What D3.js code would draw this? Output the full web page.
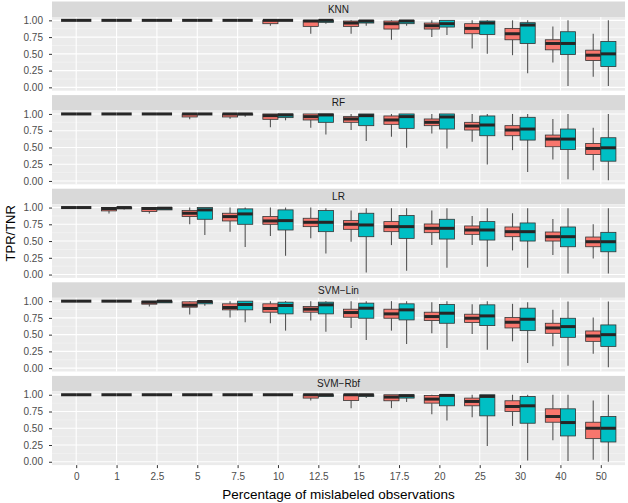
<!DOCTYPE html>
<html><head><meta charset="utf-8">
<script src="https://cdn.jsdelivr.net/npm/d3@7"></script>
<style>body{margin:0;background:#fff}text{font-family:"Liberation Sans",Arial,sans-serif}</style>
</head><body><svg id="c" width="628" height="503"></svg>
<script>
// ---- data ----
const categories = ["0","1","2.5","5","7.5","10","12.5","15","17.5","20","25","30","40","50"];
const facets = ["KNN","RF","LR","SVM\u2212Lin","SVM\u2212Rbf"];
const seriesNames = ["red","teal"];
const seriesColors = ["#F8766D","#00BFC4"];
const yTicks = [0,0.25,0.5,0.75,1];
// each entry: [lower whisker, Q1, median, Q3, upper whisker]
const knnRed = [[1,1,1,1,1],[1,1,1,1,1],[1,1,1,1,1],[1,1,1,1,1],[1,1,1,1,1],
 [0.92,0.95,1,1,1],[0.80,0.91,0.99,1,1],[0.80,0.91,0.96,0.99,1],[0.71,0.87,0.95,0.99,1],
 [0.75,0.87,0.92,0.96,1],[0.58,0.80,0.88,0.95,1],[0.48,0.71,0.80,0.88,1],
 [0.37,0.56,0.655,0.71,0.91],[0.16,0.40,0.48,0.555,0.80]];
const knnTeal = [[1,1,1,1,1],[1,1,1,1,1],[1,1,1,1,1],[1,1,1,1,1],[1,1,1,1,1],[1,1,1,1,1],
 [0.95,0.97,1,1,1],[0.92,0.96,0.99,1,1],[0.92,0.95,0.99,1,1],[0.78,0.90,0.95,1,1],
 [0.50,0.79,0.96,0.99,1],[0.21,0.655,0.93,0.965,1],[0.02,0.49,0.655,0.83,1],[0.02,0.31,0.50,0.685,1]];
const rfRed = [[1,1,1,1,1],[1,1,1,1,1],[1,1,1,1,1],
 [0.92,0.955,1,1,1],[0.93,0.955,1,1,1],[0.80,0.92,0.975,1,1],[0.795,0.91,0.96,1,1],
 [0.76,0.875,0.925,0.96,1],[0.66,0.845,0.91,0.97,1],[0.71,0.825,0.875,0.925,1],
 [0.585,0.76,0.82,0.875,1],[0.46,0.675,0.76,0.825,1],[0.32,0.51,0.625,0.685,0.925],
 [0.16,0.395,0.485,0.56,0.795]];
const rfTeal = [[1,1,1,1,1],[1,1,1,1,1],[1,1,1,1,1],[1,1,1,1,1],
 [0.96,0.985,1,1,1],[0.905,0.945,0.985,1,1],[0.695,0.875,0.985,1,1],[0.595,0.825,0.975,1,1],
 [0.495,0.785,0.96,1,1],[0.485,0.775,0.955,1,1],[0.245,0.675,0.835,0.97,1],
 [0.135,0.61,0.775,0.95,1],[0.025,0.47,0.625,0.775,1],[0.01,0.295,0.495,0.645,1]];
const lrRed = [[1,1,1,1,1],[0.91,0.95,0.985,1,1],[0.91,0.94,0.985,1,1],
 [0.75,0.865,0.915,0.955,1],[0.64,0.80,0.865,0.915,1],[0.575,0.75,0.80,0.865,1],
 [0.54,0.715,0.78,0.84,1],[0.49,0.675,0.75,0.805,0.955],[0.44,0.64,0.715,0.79,0.99],
 [0.44,0.625,0.69,0.755,0.955],[0.44,0.60,0.665,0.725,0.875],[0.36,0.565,0.64,0.71,0.915],
 [0.29,0.50,0.565,0.635,0.83],[0.24,0.415,0.49,0.56,0.75]];
const lrTeal = [[1,1,1,1,1],[0.97,0.98,1,1,1],[0.965,0.965,0.99,1,1],
 [0.59,0.825,0.965,1,1],[0.41,0.75,0.905,0.98,1],[0.28,0.665,0.805,0.965,1],
 [0.315,0.64,0.78,0.955,0.99],[0.03,0.565,0.74,0.915,0.99],[0.055,0.54,0.715,0.88,0.99],
 [0.10,0.53,0.69,0.825,0.99],[0.115,0.515,0.665,0.79,0.99],[0.10,0.50,0.64,0.77,0.99],
 [0.015,0.415,0.565,0.71,0.99],[0.015,0.34,0.49,0.63,0.99]];
const linRed = [[1,1,1,1,1],[1,1,1,1,1],[0.92,0.955,0.985,1,1],
 [0.80,0.91,0.94,0.99,1],[0.755,0.87,0.905,0.96,1],[0.67,0.835,0.89,0.96,1],
 [0.71,0.835,0.88,0.92,1],[0.60,0.76,0.83,0.88,1],[0.56,0.745,0.81,0.88,1],
 [0.52,0.71,0.77,0.835,0.985],[0.51,0.68,0.745,0.805,0.955],[0.40,0.60,0.685,0.755,0.96],
 [0.325,0.52,0.60,0.67,0.87],[0.215,0.40,0.48,0.555,0.755]];
const linTeal = [[1,1,1,1,1],[1,1,1,1,1],[0.975,0.975,1,1,1],
 [0.93,0.96,0.995,1,1],[0.685,0.87,0.95,1,1],[0.56,0.81,0.935,0.985,1],
 [0.545,0.81,0.945,0.985,1],[0.42,0.745,0.895,0.97,1],[0.36,0.72,0.87,0.96,1],
 [0.30,0.67,0.82,0.95,1],[0.275,0.635,0.78,0.945,1],[0.075,0.56,0.73,0.895,0.985],
 [0.035,0.46,0.62,0.745,0.995],[0.015,0.325,0.50,0.645,0.995]];
const rbfRed = [[1,1,1,1,1],[1,1,1,1,1],[1,1,1,1,1],[1,1,1,1,1],[1,1,1,1,1],[1,1,1,1,1],
 [0.915,0.95,1,1,1],[0.80,0.915,1,1,1],[0.80,0.91,0.965,1,1],[0.71,0.875,0.935,0.99,1],
 [0.665,0.835,0.90,0.95,1],[0.535,0.75,0.825,0.91,1],[0.32,0.59,0.675,0.79,1],
 [0.03,0.345,0.50,0.59,0.915]];
const rbfTeal = [[1,1,1,1,1],[1,1,1,1,1],[1,1,1,1,1],[1,1,1,1,1],[1,1,1,1,1],[1,1,1,1,1],
 [0.975,0.975,1,1,1],[0.95,0.975,1,1,1],[0.89,0.95,0.985,1,1],[0.615,0.835,0.99,1,1],
 [0.235,0.685,0.975,1,1],[0.02,0.575,0.835,0.975,1],[0.01,0.385,0.585,0.79,1],
 [0.0,0.295,0.50,0.675,1]];
const facetData = [[knnRed,knnTeal],[rfRed,rfTeal],[lrRed,lrTeal],[linRed,linTeal],[rbfRed,rbfTeal]];

// ---- layout ----
const svg = d3.select("#c");
const panelLeft = 52, panelRight = 625;
const firstPanelTop = 17, pitch = 93.6, panelH = 73.7, stripH = 15.5;

const x = d3.scalePoint().domain(categories).range([panelLeft, panelRight]).padding(0.6);
const step = x.step();
const boxW = step * 0.375;
const dodge = [-step * 0.1875, step * 0.1875];
const y = d3.scaleLinear().domain([-0.05, 1.05]).range([panelH, 0]);
const minorTicks = [0.125, 0.375, 0.625, 0.875];

facets.forEach((name, fi) => {
  const top = firstPanelTop + fi * pitch;
  // strip
  svg.append("rect").attr("x", panelLeft).attr("y", top - stripH)
    .attr("width", panelRight - panelLeft).attr("height", stripH).attr("fill", "#D9D9D9");
  svg.append("text").attr("x", (panelLeft + panelRight) / 2).attr("y", top - stripH / 2)
    .attr("dy", "0.35em").attr("text-anchor", "middle").attr("font-size", 10)
    .attr("fill", "#1A1A1A").text(name);
  const g = svg.append("g").attr("transform", `translate(0,${top})`);
  g.append("rect").attr("x", panelLeft).attr("y", 0).attr("width", panelRight - panelLeft)
    .attr("height", panelH).attr("fill", "#EBEBEB");
  g.selectAll(".minor").data(minorTicks).enter().append("line")
    .attr("x1", panelLeft).attr("x2", panelRight).attr("y1", d => y(d)).attr("y2", d => y(d))
    .attr("stroke", "#F5F5F5").attr("stroke-width", 0.6);
  g.selectAll(".major").data(yTicks).enter().append("line")
    .attr("x1", panelLeft).attr("x2", panelRight).attr("y1", d => y(d)).attr("y2", d => y(d))
    .attr("stroke", "#FFFFFF").attr("stroke-width", 1.1);
  g.selectAll(".vmajor").data(categories).enter().append("line")
    .attr("x1", d => x(d)).attr("x2", d => x(d)).attr("y1", 0).attr("y2", panelH)
    .attr("stroke", "#FFFFFF").attr("stroke-width", 1.1);
  // y axis
  const ay = g.append("g").attr("transform", `translate(${panelLeft},0)`)
    .call(d3.axisLeft(y).tickValues(yTicks).tickFormat(d3.format(".2f")).tickSize(3).tickPadding(6));
  ay.select(".domain").remove();
  ay.selectAll(".tick line").attr("stroke", "#333333");
  ay.selectAll(".tick text").attr("fill", "#4D4D4D").attr("font-size", 10)
    .attr("font-family", "Liberation Sans, Arial, sans-serif");

  // boxes
  facetData[fi].forEach((series, si) => {
    const sg = g.append("g");
    const items = sg.selectAll("g.box").data(series.map((s, ci) => ({c: categories[ci], s})))
      .enter().append("g");
    items.append("line").attr("x1", d => x(d.c) + dodge[si]).attr("x2", d => x(d.c) + dodge[si])
      .attr("y1", d => y(d.s[3])).attr("y2", d => y(d.s[4]))
      .attr("stroke", "#555555").attr("stroke-width", 1.1);
    items.append("line").attr("x1", d => x(d.c) + dodge[si]).attr("x2", d => x(d.c) + dodge[si])
      .attr("y1", d => y(d.s[1])).attr("y2", d => y(d.s[0]))
      .attr("stroke", "#555555").attr("stroke-width", 1.1);
    items.append("rect").attr("x", d => x(d.c) + dodge[si] - boxW / 2)
      .attr("y", d => y(d.s[3])).attr("width", boxW)
      .attr("height", d => Math.max(0, y(d.s[1]) - y(d.s[3])))
      .attr("fill", seriesColors[si]).attr("stroke", "#333333").attr("stroke-width", 0.8);
    items.append("line").attr("x1", d => x(d.c) + dodge[si] - boxW / 2)
      .attr("x2", d => x(d.c) + dodge[si] + boxW / 2)
      .attr("y1", d => y(d.s[2])).attr("y2", d => y(d.s[2]))
      .attr("stroke", "#262626").attr("stroke-width", 3);
  });

  if (fi === facets.length - 1) {
    const ax = g.append("g").attr("transform", `translate(0,${panelH})`)
      .call(d3.axisBottom(x).tickSize(3).tickPadding(5));
    ax.select(".domain").remove();
    ax.selectAll(".tick line").attr("stroke", "#333333");
    ax.selectAll(".tick text").attr("fill", "#4D4D4D").attr("font-size", 10)
      .attr("font-family", "Liberation Sans, Arial, sans-serif");
  }
});

// axis titles
const lastBottom = firstPanelTop + (facets.length - 1) * pitch + panelH;
svg.append("text").attr("x", (panelLeft + panelRight) / 2).attr("y", 499)
  .attr("text-anchor", "middle").attr("font-size", 13.5).attr("fill", "#000").text("Percentage of mislabeled observations");
svg.append("text").attr("transform", `translate(15,${(firstPanelTop - stripH + lastBottom) / 2}) rotate(-90)`)
  .attr("text-anchor", "middle").attr("font-size", 13).attr("fill", "#000").text("TPR/TNR");
</script></body></html>
